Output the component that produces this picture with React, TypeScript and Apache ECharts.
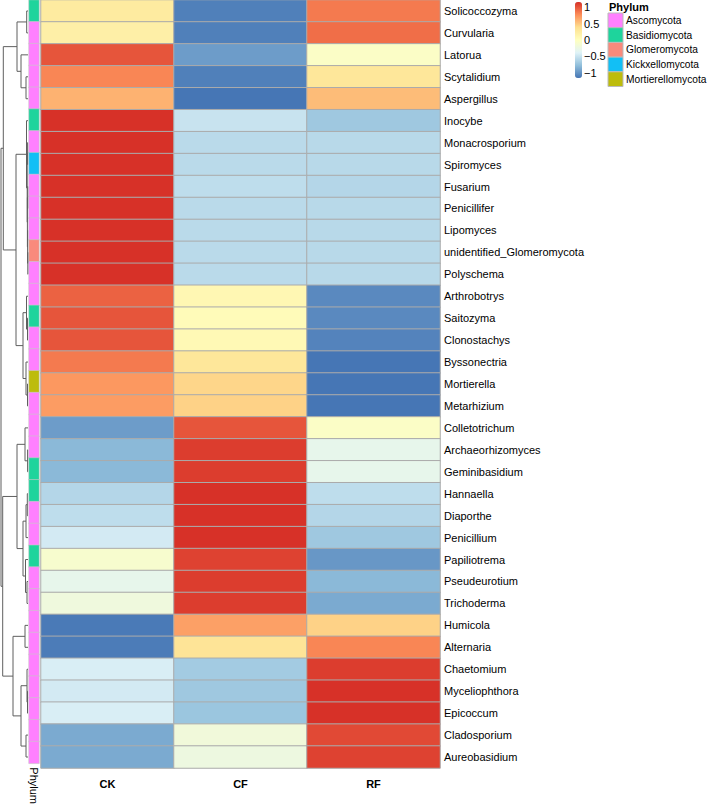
import React, { useEffect, useRef } from "react";
import * as echarts from "echarts";

const genera = [
  "Solicoccozyma", "Curvularia", "Latorua", "Scytalidium", "Aspergillus",
  "Inocybe", "Monacrosporium", "Spiromyces", "Fusarium", "Penicillifer",
  "Lipomyces", "unidentified_Glomeromycota", "Polyschema", "Arthrobotrys", "Saitozyma",
  "Clonostachys", "Byssonectria", "Mortierella", "Metarhizium", "Colletotrichum",
  "Archaeorhizomyces", "Geminibasidium", "Hannaella", "Diaporthe", "Penicillium",
  "Papiliotrema", "Pseudeurotium", "Trichoderma", "Humicola", "Alternaria",
  "Chaetomium", "Myceliophthora", "Epicoccum", "Cladosporium", "Aureobasidium",
];

const treatments = ["CK", "CF", "RF"];

const ckValues = [0.25, 0.2, 1.0, 0.8, 0.6, 1.15, 1.15, 1.15, 1.15, 1.15, 1.15, 1.15, 1.15, 0.95, 1.0, 1.0, 0.85, 0.72, 0.7, -0.95, -0.8, -0.8, -0.6, -0.55, -0.45, -0.1, -0.3, -0.2, -1.13, -1.12, -0.42, -0.45, -0.42, -0.88, -0.88];
const cfValues = [-1.1, -1.1, -0.95, -1.1, -1.15, -0.5, -0.57, -0.57, -0.55, -0.57, -0.57, -0.57, -0.57, 0.1, 0.05, 0.08, 0.3, 0.43, 0.45, 1.0, 1.1, 1.1, 1.15, 1.15, 1.15, 1.08, 1.1, 1.1, 0.68, 0.33, -0.68, -0.7, -0.72, -0.18, -0.22];
const rfValues = [0.85, 0.9, -0.05, 0.3, 0.55, -0.7, -0.58, -0.58, -0.6, -0.58, -0.58, -0.58, -0.58, -1.05, -1.05, -1.08, -1.15, -1.15, -1.15, -0.05, -0.3, -0.3, -0.55, -0.6, -0.7, -0.98, -0.8, -0.88, 0.45, 0.8, 1.1, 1.15, 1.15, 1.05, 1.08];

const phylumNames = ["Ascomycota", "Basidiomycota", "Glomeromycota", "Kickxellomycota", "Mortierellomycota"];
const phylumColors = ["#FF80FF", "#1ED49C", "#F98A7C", "#12BFF5", "#BDBC0C"];
// phylum index per genus (row order)
const genusPhylum = [1, 0, 0, 0, 0, 1, 0, 3, 0, 0, 0, 2, 0, 0, 1, 0, 0, 4, 0, 0, 0, 1, 1, 0, 0, 1, 0, 0, 0, 0, 0, 0, 0, 0, 0];

const scaleTicks = [1, 0.5, 0, -0.5, -1];
const scaleTickLabels = ["1", "0.5", "0", "\u22120.5", "\u22121"];
const scaleMin = -1.155;
const scaleMax = 1.155;
const heatColors = ["#4575B4", "#91BFDB", "#E0F3F8", "#FFFFBF", "#FEE090", "#FC8D59", "#D73027"];

// row dendrogram: leaf = row index, node = [left, right, height]
const dendrogram: any = [
  [
    [[0, 1, 1.3], [2, [3, 4, 2.0], 7], 11],
    [
      [5, [[6, 7, 0.4], [[8, 9, 0.3], [10, [11, 12, 0.2], 0.4], 0.6], 0.8], 1.5],
      [[13, [14, 15, 0.5], 1.5], [16, [17, 18, 0.5], 2], 5],
      12,
    ],
    24.7,
  ],
  [
    [
      [19, [20, 21, 0.4], 3],
      [[[22, 23, 0.7], 24, 2], [25, [26, 27, 1], 2.5], 5],
      11,
    ],
    [[28, 29, 3], [[30, [31, 32, 0.5], 1], [33, 34, 2], 7], 15],
    25.3,
  ],
  27,
];

function buildSegments(tree: any) {
  const segs: number[][][] = [];
  const walk = (n: any): { y: number; h: number } => {
    if (typeof n === "number") return { y: n, h: 0 };
    const l = walk(n[0]);
    const r = walk(n[1]);
    const h = n[2];
    segs.push([[l.h, l.y], [h, l.y], [h, r.y], [r.h, r.y]]);
    return { y: (l.y + r.y) / 2, h };
  };
  walk(tree);
  return segs;
}

export default function App() {
  const ref = useRef<HTMLDivElement>(null);
  useEffect(() => {
    if (!ref.current) return;
    const chart = echarts.init(ref.current, undefined, { renderer: "svg" });
    const gridTop = 0;
    const gridH = 768;
    const heatData: number[][] = [];
    const cols = [ckValues, cfValues, rfValues];
    cols.forEach((arr, ci) => arr.forEach((v, ri) => heatData.push([ci, ri, v])));
    const phylumData = genusPhylum.map((p, ri) => [0, ri, p]);
    const segs = buildSegments(dendrogram);

    const barTop = 2;
    const barH = 76;
    const barLeft = 575;
    const graphics: any[] = [];
    scaleTicks.forEach((t, i) => {
      const y = barTop + ((scaleMax - t) / (scaleMax - scaleMin)) * barH;
      graphics.push({
        type: "text",
        x: barLeft + 9,
        y,
        style: { text: scaleTickLabels[i], fill: "#000", font: "11px 'Liberation Sans', Arial, sans-serif", verticalAlign: "middle", align: "left" },
      });
    });
    graphics.push({
      type: "text",
      x: 609,
      y: 7,
      style: { text: "Phylum", fill: "#000", font: "bold 11px 'Liberation Sans', Arial, sans-serif", verticalAlign: "middle", align: "left" },
    });
    const boxH = 14.7;
    phylumNames.forEach((n, i) => {
      const y = 13 + i * boxH;
      graphics.push({
        type: "rect",
        shape: { x: 608, y, width: 15, height: boxH },
        style: { fill: phylumColors[i], stroke: "#bbbbbb", lineWidth: 1 },
      });
      graphics.push({
        type: "text",
        x: 626,
        y: y + boxH / 2,
        style: { text: n, fill: "#000", font: "10.2px 'Liberation Sans', Arial, sans-serif", verticalAlign: "middle", align: "left" },
      });
    });

    const font = "'Liberation Sans', Arial, sans-serif";
    chart.setOption({
      animation: false,
      backgroundColor: "#fff",
      grid: [
        { left: 41, top: gridTop, width: 399, height: gridH },
        { left: 29, top: gridTop, width: 10, height: gridH },
        { left: 0, top: gridTop, width: 28, height: gridH },
      ],
      xAxis: [
        {
          type: "category", gridIndex: 0, data: treatments,
          axisLine: { show: false }, axisTick: { show: false }, splitLine: { show: false },
          axisLabel: { fontSize: 11, fontWeight: "bold", color: "#000", margin: 10, fontFamily: font },
        },
        {
          type: "category", gridIndex: 1, data: ["Phylum"],
          axisLine: { show: false }, axisTick: { show: false },
          axisLabel: { fontSize: 11, color: "#000", rotate: -90, margin: 4, fontFamily: font },
        },
        { type: "value", gridIndex: 2, min: 0, max: 28, inverse: true, show: false },
      ],
      yAxis: [
        {
          type: "category", gridIndex: 0, data: genera, inverse: true, position: "right",
          axisLine: { show: false }, axisTick: { show: false }, splitLine: { show: false },
          axisLabel: { fontSize: 11, color: "#000", margin: 4, fontFamily: font },
        },
        { type: "category", gridIndex: 1, data: genera, inverse: true, show: false },
        { type: "value", gridIndex: 2, min: -0.5, max: genera.length - 0.5, inverse: true, show: false },
      ],
      visualMap: [
        {
          type: "continuous", seriesIndex: 0, dimension: 2, min: scaleMin, max: scaleMax,
          inRange: { color: heatColors }, calculable: false, orient: "vertical",
          left: barLeft, top: barTop, itemWidth: 7, itemHeight: barH, padding: 0, text: ["", ""],
          showLabel: false,
        },
        {
          type: "piecewise", seriesIndex: 1, dimension: 2, show: false,
          pieces: phylumNames.map((n, i) => ({ value: i, color: phylumColors[i], label: n })),
        },
      ],
      series: [
        {
          type: "heatmap", xAxisIndex: 0, yAxisIndex: 0, data: heatData,
          itemStyle: { borderColor: "#ababab", borderWidth: 1 },
          emphasis: { disabled: true },
        },
        {
          type: "heatmap", xAxisIndex: 1, yAxisIndex: 1, data: phylumData,
          itemStyle: { borderColor: "#c8c8c8", borderWidth: 0.6 },
          emphasis: { disabled: true },
        },
        {
          type: "custom", xAxisIndex: 2, yAxisIndex: 2, clip: false,
          data: segs.map((s, i) => [s[1][0], s[1][1], i]),
          encode: { x: 0, y: 1 },
          renderItem: (params: any, api: any) => {
            const s = segs[params.dataIndex];
            return {
              type: "polyline",
              shape: { points: s.map((p) => api.coord(p)) },
              style: { stroke: "#5f5f5f", lineWidth: 1, fill: "none" },
            };
          },
        },
      ],
      graphic: graphics,
    });
    return () => chart.dispose();
  }, []);
  return (
    <div
      ref={ref}
      style={{ position: "absolute", left: 0, top: 0, width: 708, height: 807, background: "#fff" }}
    />
  );
}
